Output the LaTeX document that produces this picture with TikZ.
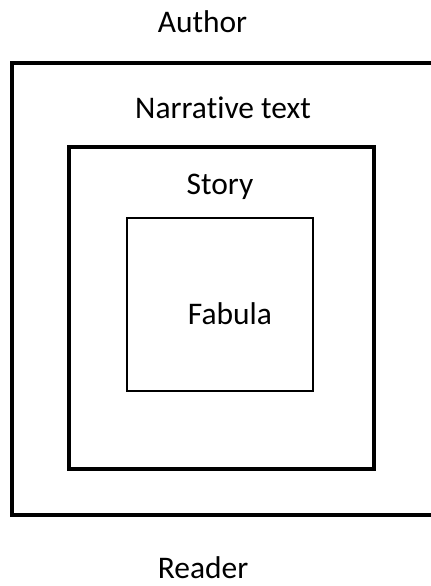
\documentclass[tikz,border=0pt]{standalone}
\usepackage{fontspec}
\setmainfont{Carlito}[Ligatures=NoCommon]
\usepackage{tikz}

\tikzset{
  lbl/.style={anchor=base, inner sep=0pt, font=\fontsize{23.6}{28}\selectfont},
  thickbox/.style={line width=3.5pt},
  thinbox/.style={line width=0.9pt}
}

\begin{document}
\begin{tikzpicture}[x=0.75pt,y=0.75pt,yscale=-1,xscale=1]
\useasboundingbox (0,0) rectangle (430,586);

%Outer box
\draw [thickbox] (12,63) rectangle (433,515) ;
%Story box
\draw [line width=3pt] (69,147) rectangle (374,469) ;
%Fabula box
\draw [thinbox] (127,218) rectangle (313,391) ;

% Text Node
\node [lbl] (author) at (202.5,32) {Author};
% Text Node
\node [lbl] (narrative) at (223,118) {Narrative text};
% Text Node
\node [lbl] (story) at (220,194) {Story};
% Text Node
\node [lbl] (fabula) at (230,324) {Fabula};
% Text Node
\node [lbl] (reader) at (203,578) {Reader};

\end{tikzpicture}
\end{document}
